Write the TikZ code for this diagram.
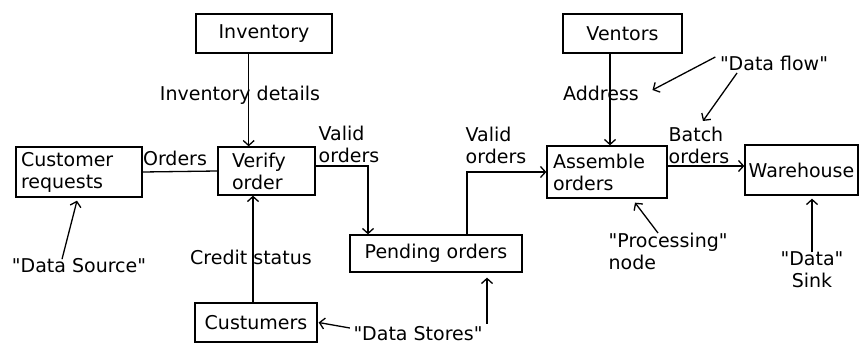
\documentclass[tikz,border=0pt]{standalone}
\usepackage{fontspec}
\setmainfont{DejaVu Sans}[Ligatures=TeXOff]
\usetikzlibrary{arrows.meta,calc}
\newcommand{\qq}{\symbol{34}}
\begin{document}
\begin{tikzpicture}[x=1pt,y=-1pt,line width=1.3pt,
  font=\fontsize{19}{22}\selectfont,
  box/.style={draw,inner ysep=0pt,align=left},
  lbl/.style={inner sep=0pt,align=left},
  arr/.style={-{Straight Barb[length=5pt,width=11pt]}}]
\useasboundingbox[fill=white] (0,0) rectangle (859,345);
% boxes
\node[box,align=center,minimum width=136pt,minimum height=39pt] (inv) at (264,33.5) {Inventory};
\node[box,align=center,minimum width=119pt,minimum height=39pt] (ven) at (622.5,33.5) {Ventors};
\node[box,inner xsep=5pt,text width=116pt,minimum height=50pt] (cr) at (79,172) {Customer\\requests};
\node[box,inner xsep=14pt,text width=69pt,minimum height=48pt] (vo) at (266.5,171) {Verify\\order};
\node[box,align=center,minimum width=172pt,minimum height=37pt] (po) at (436,253.5) {Pending orders};
\node[box,inner xsep=6pt,text width=108pt,minimum height=52pt] (ao) at (607,172) {Assemble\\orders};
\node[box,align=center,inner xsep=2pt,minimum width=113pt,minimum height=50pt] (wh) at (801.5,170) {Warehouse};
\node[box,align=center,minimum width=122pt,minimum height=39pt] (cu) at (256,322.5) {Custumers};
% labels
\node[lbl] (invd) at (240,95) {Inventory details};
\node[lbl] (ord) at (175,158) {Orders};
\node[lbl,anchor=west] (vo1) at (318,144) {Valid\\orders};
\node[lbl,anchor=west] (vo2) at (465,145) {Valid\\orders};
\node[lbl] (cs) at (251,257) {Credit status};
\node[lbl] (addr) at (601,93) {Address};
\node[lbl,anchor=west] (bo) at (668,145) {Batch\\orders};
\node[lbl] (df) at (774,63) {\qq Data flow\qq};
\node[lbl] (ds) at (79,266) {\qq Data Source\qq};
\node[lbl,anchor=west] (pn) at (608,251) {\qq Processing\qq\\node};
\node[lbl,align=center] (sink) at (812,270) {\qq Data\qq\\Sink};
\node[lbl,anchor=north] (dst) at (418,326) {\qq Data Stores\qq};
% connectors
\draw[arr] (inv.south -| invd.east) ++(-72,0) coordinate (ia) -- (ia |- vo.north);
\draw (cr.east) -- (vo.west);
\draw[arr] ([yshift=5pt]vo.east) -| ([xshift=-68pt]po.north);
\draw[arr] ([xshift=31pt]po.north) |- (ao.west);
\draw[arr] (ven.south -| ao.north) ++(3,0) coordinate (va) -- (va |- ao.north);
\draw[arr] ([yshift=6pt]ao.east) -- ([yshift=6pt]ao.east -| wh.west);
\draw[arr] (cu.north) ++(-3,0) coordinate (ca) -- (ca |- vo.south);
% annotation arrows
\draw[arr] ($(ds.north)+(-17,1)$) -- ($(cr.south)+(-2,3)$);
\draw[arr] ($(df.west)+(-4,-6)$) -- ($(addr.east)+(13,-3)$);
\draw[arr] ($(df.south)+(-37,2)$) -- ($(bo.north)+(4,-5)$);
\draw[arr] ($(pn.north west)+(50,1)$) -- ($(ao.south)+(28,4)$);
\draw[arr] ($(sink.north)+(0,1)$) -- ($(wh.south -| sink.north)+(0,3)$);
\draw[arr] ($(dst.north west)+(-3,2)$) -- ($(cu.east)+(1,0)$);
\draw[arr] ($(po.south)+(51,51)$) -- ($(po.south)+(51,5)$);
\end{tikzpicture}
\end{document}
